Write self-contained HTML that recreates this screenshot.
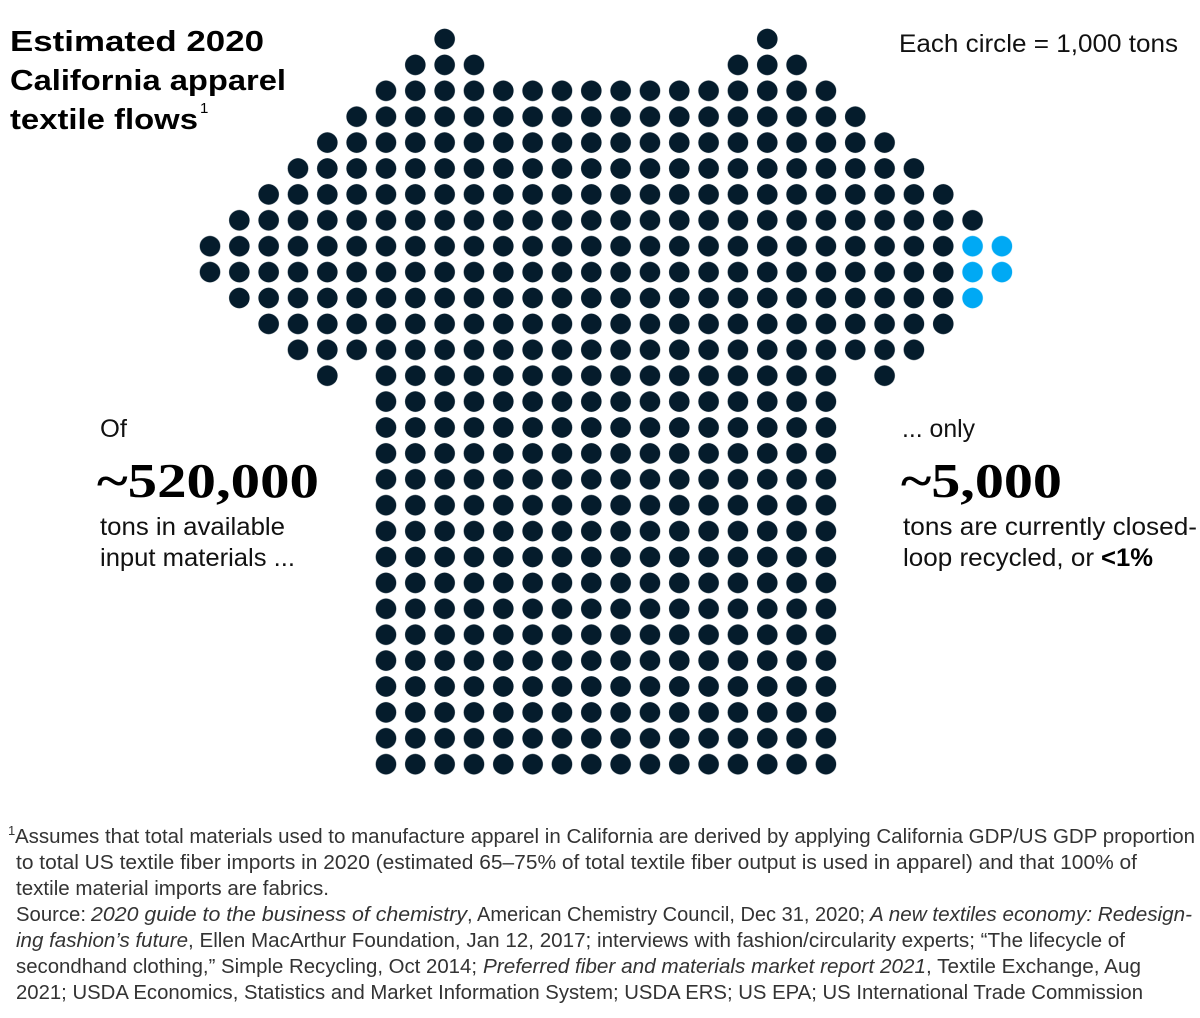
<!DOCTYPE html>
<html>
<head>
<meta charset="utf-8">
<style>
  html, body { margin: 0; padding: 0; background: #fff; }
  svg { display: block; }
  .sans { font-family: "Liberation Sans", sans-serif; }
  .serif { font-family: "Liberation Serif", serif; }
</style>
</head>
<body>
<svg width="1200" height="1018" viewBox="0 0 1200 1018" xmlns="http://www.w3.org/2000/svg">
  <defs>
    <pattern id="dk" patternUnits="userSpaceOnUse" x="195.335" y="26.05" width="29.33" height="25.9">
      <circle cx="14.665" cy="12.95" r="10.3" fill="#051C2C"/>
    </pattern>
    <pattern id="bl" patternUnits="userSpaceOnUse" x="195.335" y="26.05" width="29.33" height="25.9">
      <circle cx="14.665" cy="12.95" r="10.3" fill="#00A9F4"/>
    </pattern>
  </defs>
  <rect width="1200" height="1018" fill="#fff"/>

  <!-- dot grid (t-shirt) -->
  <g>
    <rect x="429.975" y="26.05" width="29.33" height="25.9" fill="url(#dk)"/>
    <rect x="752.605" y="26.05" width="29.33" height="25.9" fill="url(#dk)"/>
    <rect x="400.645" y="51.95" width="87.99" height="25.9" fill="url(#dk)"/>
    <rect x="723.275" y="51.95" width="87.99" height="25.9" fill="url(#dk)"/>
    <rect x="371.315" y="77.85" width="469.28" height="25.9" fill="url(#dk)"/>
    <rect x="341.985" y="103.75" width="527.94" height="25.9" fill="url(#dk)"/>
    <rect x="312.655" y="129.65" width="586.6" height="25.9" fill="url(#dk)"/>
    <rect x="283.325" y="155.55" width="645.26" height="25.9" fill="url(#dk)"/>
    <rect x="253.995" y="181.45" width="703.92" height="25.9" fill="url(#dk)"/>
    <rect x="224.665" y="207.35" width="762.58" height="25.9" fill="url(#dk)"/>
    <rect x="195.335" y="233.25" width="762.58" height="51.8" fill="url(#dk)"/>
    <rect x="957.915" y="233.25" width="58.66" height="51.8" fill="url(#bl)"/>
    <rect x="224.665" y="285.05" width="733.25" height="25.9" fill="url(#dk)"/>
    <rect x="957.915" y="285.05" width="29.33" height="25.9" fill="url(#bl)"/>
    <rect x="253.995" y="310.95" width="703.92" height="25.9" fill="url(#dk)"/>
    <rect x="283.325" y="336.85" width="645.26" height="25.9" fill="url(#dk)"/>
    <rect x="312.655" y="362.75" width="29.33" height="25.9" fill="url(#dk)"/>
    <rect x="371.315" y="362.75" width="469.28" height="25.9" fill="url(#dk)"/>
    <rect x="869.925" y="362.75" width="29.33" height="25.9" fill="url(#dk)"/>
    <rect x="371.315" y="388.65" width="469.28" height="388.5" fill="url(#dk)"/>
  </g>

  <!-- title -->
  <g class="sans" font-weight="bold" font-size="29" fill="#000">
    <text x="10" y="51" textLength="254" lengthAdjust="spacingAndGlyphs">Estimated 2020</text>
    <text x="10" y="90" textLength="276" lengthAdjust="spacingAndGlyphs">California apparel</text>
    <text x="10" y="129" textLength="188" lengthAdjust="spacingAndGlyphs">textile flows</text>
  </g>
  <text class="sans" x="200" y="113" font-size="15" fill="#000">1</text>

  <text class="sans" x="899" y="52" font-size="25" fill="#111" textLength="279" lengthAdjust="spacingAndGlyphs">Each circle = 1,000 tons</text>

  <!-- left annotation -->
  <g class="sans" font-size="25" fill="#111">
    <text x="100" y="437" textLength="27" lengthAdjust="spacingAndGlyphs">Of</text>
    <text x="100" y="535" textLength="185" lengthAdjust="spacingAndGlyphs">tons in available</text>
    <text x="100" y="566" textLength="195" lengthAdjust="spacingAndGlyphs">input materials ...</text>
  </g>
  <text class="serif" x="97" y="497" font-size="49" font-weight="bold" fill="#000" textLength="222" lengthAdjust="spacingAndGlyphs">~520,000</text>

  <!-- right annotation -->
  <g class="sans" font-size="25" fill="#111">
    <text x="902" y="437" textLength="73" lengthAdjust="spacingAndGlyphs">... only</text>
    <text x="903" y="535" textLength="294" lengthAdjust="spacingAndGlyphs">tons are currently closed-</text>
    <text x="903" y="566" textLength="191" lengthAdjust="spacingAndGlyphs">loop recycled, or</text>
    <text x="1101" y="566" font-weight="bold" fill="#000" textLength="52" lengthAdjust="spacingAndGlyphs">&lt;1%</text>
  </g>
  <text class="serif" x="901" y="497" font-size="49" font-weight="bold" fill="#000" textLength="161" lengthAdjust="spacingAndGlyphs">~5,000</text>

  <!-- footnotes -->
  <g class="sans" font-size="20" fill="#333">
    <text x="8" y="835" font-size="13">1</text>
    <text x="15" y="843" textLength="1180" lengthAdjust="spacingAndGlyphs">Assumes that total materials used to manufacture apparel in California are derived by applying California GDP/US GDP proportion</text>
    <text x="16" y="869" textLength="1121" lengthAdjust="spacingAndGlyphs">to total US textile fiber imports in 2020 (estimated 65–75% of total textile fiber output is used in apparel) and that 100% of</text>
    <text x="16" y="895" textLength="313" lengthAdjust="spacingAndGlyphs">textile material imports are fabrics.</text>

    <text x="16" y="921" textLength="70" lengthAdjust="spacingAndGlyphs">Source:</text>
    <text x="91" y="921" font-style="italic" textLength="376" lengthAdjust="spacingAndGlyphs">2020 guide to the business of chemistry</text>
    <text x="467" y="921" textLength="398" lengthAdjust="spacingAndGlyphs">, American Chemistry Council, Dec 31, 2020;</text>
    <text x="870" y="921" font-style="italic" textLength="322" lengthAdjust="spacingAndGlyphs">A new textiles economy: Redesign-</text>

    <text x="16" y="947" font-style="italic" textLength="172" lengthAdjust="spacingAndGlyphs">ing fashion’s future</text>
    <text x="188" y="947" textLength="937" lengthAdjust="spacingAndGlyphs">, Ellen MacArthur Foundation, Jan 12, 2017; interviews with fashion/circularity experts; “The lifecycle of</text>

    <text x="16" y="973" textLength="461" lengthAdjust="spacingAndGlyphs">secondhand clothing,” Simple Recycling, Oct 2014;</text>
    <text x="483" y="973" font-style="italic" textLength="443" lengthAdjust="spacingAndGlyphs">Preferred fiber and materials market report 2021</text>
    <text x="926" y="973" textLength="215" lengthAdjust="spacingAndGlyphs">, Textile Exchange, Aug</text>

    <text x="16" y="999" textLength="1127" lengthAdjust="spacingAndGlyphs">2021; USDA Economics, Statistics and Market Information System; USDA ERS; US EPA; US International Trade Commission</text>
  </g>
</svg>
</body>
</html>
